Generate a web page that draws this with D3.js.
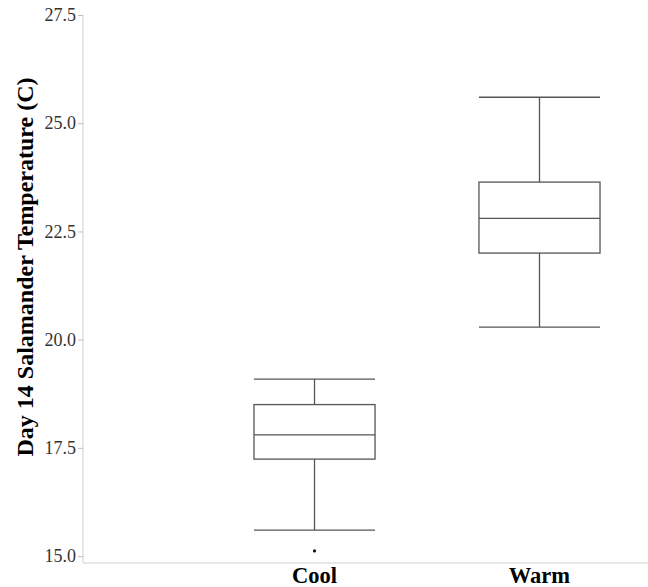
<!DOCTYPE html>
<html>
<head>
<meta charset="utf-8">
<script src="https://cdn.jsdelivr.net/npm/d3@7"></script>
<style>
  body { margin: 0; background: #fff; }
  text { font-family: "Liberation Serif", "Times New Roman", serif; }
</style>
</head>
<body>
<svg id="chart" width="648" height="587"></svg>
<script>
// Box stats
var groups   = ["Cool", "Warm"];
var whiskLo  = [15.6, 20.29];
var q1       = [17.24, 22.0];
var median   = [17.8, 22.8];
var q3       = [18.5, 23.64];
var whiskHi  = [19.09, 25.6];
var outliers = [[15.12], []];
var yTicks   = [15.0, 17.5, 20.0, 22.5, 25.0, 27.5];

var svg = d3.select("#chart");
var plotL = 83, plotR = 648, plotT = 15, plotB = 563;

var y = d3.scaleLinear().domain([14.84, 27.5]).range([plotB, plotT]);
// band range runs past the right edge so the two boxes sit where the original puts them
var x = d3.scaleBand().domain(groups).range([plotL, 771]).paddingInner(0.462).paddingOuter(0.76);

// axes
var yAxis = svg.append("g").attr("transform", "translate(" + plotL + ",0)")
  .call(d3.axisLeft(y).tickValues(yTicks).tickFormat(d3.format(".1f")).tickSize(5).tickPadding(2));
yAxis.select(".domain").attr("stroke", "#cfcfcf").attr("d", "M0," + plotB + "V" + plotT);
yAxis.selectAll(".tick line").attr("stroke", "#bfbfbf");
yAxis.selectAll(".tick text").attr("fill", "#333").style("font-size", "18px");

svg.append("line")
  .attr("x1", plotL).attr("x2", plotR).attr("y1", plotB).attr("y2", plotB)
  .attr("stroke", "#cfcfcf");

svg.append("g").selectAll("text").data(groups).join("text")
  .attr("x", function (d) { return x(d) + x.bandwidth() / 2; })
  .attr("y", 583)
  .attr("text-anchor", "middle")
  .style("font-size", "22.5px").style("font-weight", "bold")
  .text(function (d) { return d; });

svg.append("text")
  .attr("transform", "translate(33,267) rotate(-90)")
  .attr("text-anchor", "middle")
  .style("font-size", "24px").style("font-weight", "bold")
  .text("Day 14 Salamander Temperature (C)");

// boxes
var stroke = "#555";
groups.forEach(function (g, i) {
  var x0 = x(g), w = x.bandwidth(), cx = x0 + w / 2;
  var b = svg.append("g").attr("stroke", stroke).attr("stroke-width", 1.3).attr("fill", "none");
  b.append("line").attr("x1", cx).attr("x2", cx).attr("y1", y(whiskHi[i])).attr("y2", y(q3[i]));
  b.append("line").attr("x1", cx).attr("x2", cx).attr("y1", y(q1[i])).attr("y2", y(whiskLo[i]));
  b.append("line").attr("x1", x0).attr("x2", x0 + w).attr("y1", y(whiskHi[i])).attr("y2", y(whiskHi[i]));
  b.append("line").attr("x1", x0).attr("x2", x0 + w).attr("y1", y(whiskLo[i])).attr("y2", y(whiskLo[i]));
  b.append("rect").attr("x", x0).attr("width", w)
    .attr("y", y(q3[i])).attr("height", y(q1[i]) - y(q3[i]));
  b.append("line").attr("x1", x0).attr("x2", x0 + w).attr("y1", y(median[i])).attr("y2", y(median[i]));
  outliers[i].forEach(function (v) {
    svg.append("circle").attr("cx", cx).attr("cy", y(v)).attr("r", 1.6).attr("fill", "#111");
  });
});
</script>
</body>
</html>
